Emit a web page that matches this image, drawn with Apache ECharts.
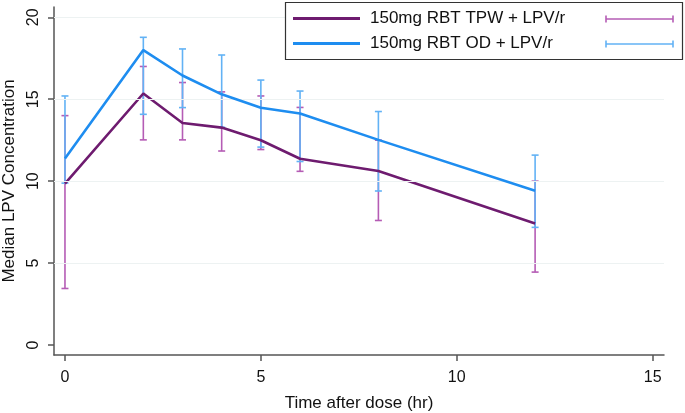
<!DOCTYPE html>
<html><head><meta charset="utf-8">
<script src="https://cdn.jsdelivr.net/npm/echarts@6/dist/echarts.min.js"></script>
<style>html,body{margin:0;padding:0;background:#fff}#c{width:685px;height:413px}</style>
</head><body><div id="c"></div>
<script>
const times = [0, 2, 3, 4, 5, 6, 8, 12];
const tpwMedian = [9.85, 15.35, 13.55, 13.27, 12.5, 11.37, 10.62, 7.42];
const tpwUpper  = [14.0, 17.0, 16.02, 15.45, 15.2, 14.5, 12.5, 10.0];
const tpwLower  = [3.45, 12.52, 12.52, 11.84, 11.93, 10.6, 7.6, 4.45];
const odMedian  = [11.38, 18.0, 16.45, 15.3, 14.48, 14.13, 12.52, 9.41];
const odUpper   = [15.2, 18.78, 18.07, 17.7, 16.17, 15.5, 14.25, 11.59];
const odLower   = [9.88, 14.08, 14.49, 13.29, 12.08, 11.2, 9.4, 7.18];
const xTicks = [0, 5, 10, 15];
const yTicks = [0, 5, 10, 15, 20];
const gridLines = [5, 10, 15, 20];
const seriesNames = ['150mg RBT TPW + LPV/r', '150mg RBT OD + LPV/r'];

const C_TPW = '#6e1b6f', C_OD = '#1e8df0';
const E_TPW = '#b55cb5', E_OD = '#62b2f5';
const FONT = '"Liberation Sans", Arial, Helvetica, sans-serif';

function errData(lo, hi) { return times.map((t, i) => [t, lo[i], hi[i]]); }
function errRender(color) {
  return function (params, api) {
    const x = api.value(0);
    const a = api.coord([x, api.value(1)]);
    const b = api.coord([x, api.value(2)]);
    const hw = 3.5;
    const st = { stroke: color, lineWidth: 1.6 };
    return { type: 'group', children: [
      { type: 'line', shape: { x1: a[0], y1: a[1], x2: b[0], y2: b[1] }, style: st },
      { type: 'line', shape: { x1: a[0] - hw, y1: a[1], x2: a[0] + hw, y2: a[1] }, style: st },
      { type: 'line', shape: { x1: b[0] - hw, y1: b[1], x2: b[0] + hw, y2: b[1] }, style: st }
    ]};
  };
}

const chart = echarts.init(document.getElementById('c'), null, { renderer: 'canvas' });
const axisLine = { show: true, onZero: false, lineStyle: { color: '#555', width: 1.5 } };
const axisTick = { show: true, length: 6, lineStyle: { color: '#555', width: 1.5 } };

function legendErr(y, color) {
  const st = { stroke: color, lineWidth: 1.6 };
  return [
    { type: 'line', shape: { x1: 606, y1: y, x2: 673, y2: y }, style: st },
    { type: 'line', shape: { x1: 606, y1: y - 3.5, x2: 606, y2: y + 3.5 }, style: st },
    { type: 'line', shape: { x1: 673, y1: y - 3.5, x2: 673, y2: y + 3.5 }, style: st }
  ].map(g => Object.assign({ z: 21 }, g));
}
const lineIcon = 'path://M0,0H67V3H0Z';

chart.setOption({
  animation: false,
  backgroundColor: '#fff',
  textStyle: { fontFamily: FONT },
  grid: { left: 54, right: 21, top: 7, bottom: 58, containLabel: false, outerBoundsMode: 'none' },
  xAxis: {
    type: 'value', min: -0.28, max: 15.29,
    name: 'Time after dose (hr)', nameLocation: 'middle', nameGap: 40,
    nameTextStyle: { fontSize: 17, color: '#111', fontFamily: FONT },
    axisLine, axisTick: Object.assign({ customValues: xTicks }, axisTick),
    axisLabel: { customValues: xTicks, fontSize: 16, color: '#111', margin: 15, fontFamily: FONT },
    splitLine: { show: false }
  },
  yAxis: {
    type: 'value', min: -0.61, max: 20.63,
    name: 'Median LPV Concentration', nameLocation: 'middle', nameGap: 33,
    nameTextStyle: { fontSize: 17, color: '#111', fontFamily: FONT },
    axisLine, axisTick: Object.assign({ customValues: yTicks }, axisTick),
    axisLabel: { customValues: yTicks, fontSize: 16, color: '#111', rotate: 90, margin: 12, fontFamily: FONT },
    splitLine: { show: false }
  },
  legend: {
    orient: 'vertical', left: 293, top: 10, padding: 0, z: 20,
    itemWidth: 67, itemHeight: 17, itemGap: 8, symbolKeepAspect: true,
    textStyle: { fontSize: 17, color: '#111', fontFamily: FONT, padding: [0, 0, 0, 5] },
    data: [
      { name: seriesNames[0], icon: lineIcon },
      { name: seriesNames[1], icon: lineIcon }
    ]
  },
  graphic: [
    { type: 'rect', z: 19, shape: { x: 285.5, y: 2.5, width: 397, height: 57 }, style: { fill: '#fff', stroke: '#333', lineWidth: 1.2 } },
    ...legendErr(19, E_TPW), ...legendErr(44, E_OD)
  ],
  series: [
    { type: 'line', name: '_grid', data: [], z: 0, silent: true,
      markLine: { silent: true, symbol: 'none', label: { show: false },
        lineStyle: { color: '#edf2f2', width: 1.2, type: 'solid' },
        data: gridLines.map(v => ({ yAxis: v })) } },
    { type: 'custom', name: 'tpwErr', renderItem: errRender(E_TPW), data: errData(tpwLower, tpwUpper), z: 2, encode: { x: 0, y: [1, 2] } },
    { type: 'custom', name: 'odErr', renderItem: errRender(E_OD), data: errData(odLower, odUpper), z: 3, encode: { x: 0, y: [1, 2] } },
    { type: 'line', name: seriesNames[0], data: times.map((t, i) => [t, tpwMedian[i]]), symbol: 'none',
      lineStyle: { color: C_TPW, width: 2.6 }, itemStyle: { color: C_TPW }, z: 4 },
    { type: 'line', name: seriesNames[1], data: times.map((t, i) => [t, odMedian[i]]), symbol: 'none',
      lineStyle: { color: C_OD, width: 2.6 }, itemStyle: { color: C_OD }, z: 5 }
  ]
});
</script></body></html>
